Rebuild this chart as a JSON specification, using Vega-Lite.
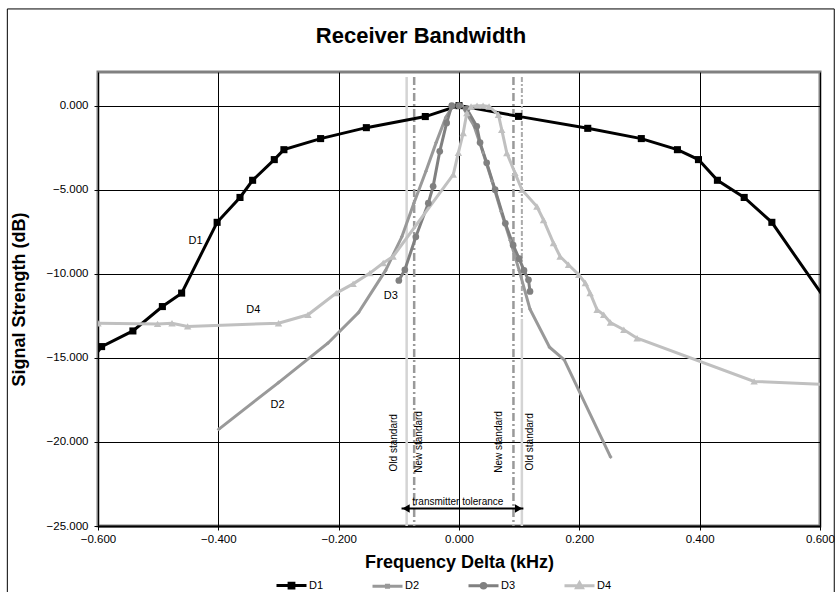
{
  "$schema": "https://vega.github.io/schema/vega-lite/v6.json",
  "autosize": {"type": "none"},
  "width": 722,
  "height": 454,
  "padding": {"left": 98, "top": 72, "right": 16, "bottom": 66},
  "background": "white",
  "config": {
    "font": "Liberation Sans",
    "view": {"stroke": "#808080", "strokeWidth": 3},
    "axis": {"labelFont": "Liberation Sans", "titleFont": "Liberation Sans", "labelColor": "black", "titleColor": "black"},
    "legend": {"orient": "none", "legendX": 177, "legendY": 497, "direction": "horizontal", "padding": 0, "symbolSize": 900, "symbolStrokeWidth": 3, "symbolOpacity": 1, "labelFontSize": 11, "labelFont": "Liberation Sans", "labelColor": "black", "labelOffset": 1, "columnPadding": 42}
  },
  "title": {"text": "Receiver Bandwidth", "fontSize": 22, "fontWeight": "bold", "font": "Liberation Sans", "color": "black", "anchor": "middle", "frame": "group", "dx": -38, "offset": -39.5},
  "datasets": {
    "series": [
      {"series": "D1", "x": -0.62, "y": -15.6}, {"series": "D1", "x": -0.594, "y": -14.33}, {"series": "D1", "x": -0.542, "y": -13.4}, {"series": "D1", "x": -0.493, "y": -11.95}, {"series": "D1", "x": -0.461, "y": -11.15}, {"series": "D1", "x": -0.402, "y": -6.94}, {"series": "D1", "x": -0.364, "y": -5.46}, {"series": "D1", "x": -0.343, "y": -4.44}, {"series": "D1", "x": -0.307, "y": -3.21}, {"series": "D1", "x": -0.291, "y": -2.62}, {"series": "D1", "x": -0.23, "y": -1.96}, {"series": "D1", "x": -0.154, "y": -1.31}, {"series": "D1", "x": -0.056, "y": -0.65}, {"series": "D1", "x": 0.0, "y": 0.0}, {"series": "D1", "x": 0.099, "y": -0.64}, {"series": "D1", "x": 0.214, "y": -1.35}, {"series": "D1", "x": 0.303, "y": -1.96}, {"series": "D1", "x": 0.363, "y": -2.62}, {"series": "D1", "x": 0.398, "y": -3.21}, {"series": "D1", "x": 0.4295, "y": -4.44}, {"series": "D1", "x": 0.474, "y": -5.46}, {"series": "D1", "x": 0.52, "y": -6.94}, {"series": "D1", "x": 0.62, "y": -12.1},
      {"series": "D2", "x": -0.3995, "y": -19.25}, {"series": "D2", "x": -0.3, "y": -16.47}, {"series": "D2", "x": -0.218, "y": -14.13}, {"series": "D2", "x": -0.167, "y": -12.3}, {"series": "D2", "x": -0.122, "y": -9.8}, {"series": "D2", "x": -0.095, "y": -7.8}, {"series": "D2", "x": -0.075, "y": -5.8}, {"series": "D2", "x": -0.055, "y": -3.9}, {"series": "D2", "x": -0.038, "y": -2.2}, {"series": "D2", "x": -0.022, "y": -0.7}, {"series": "D2", "x": -0.01, "y": 0.0}, {"series": "D2", "x": 0.005, "y": 0.0}, {"series": "D2", "x": 0.025, "y": -1.2}, {"series": "D2", "x": 0.04, "y": -2.8}, {"series": "D2", "x": 0.055, "y": -4.5}, {"series": "D2", "x": 0.07, "y": -6.3}, {"series": "D2", "x": 0.085, "y": -8.0}, {"series": "D2", "x": 0.1, "y": -9.8}, {"series": "D2", "x": 0.118, "y": -12.1}, {"series": "D2", "x": 0.1505, "y": -14.37}, {"series": "D2", "x": 0.175, "y": -15.12}, {"series": "D2", "x": 0.252, "y": -20.9},
      {"series": "D3", "x": -0.1, "y": -10.4}, {"series": "D3", "x": -0.09, "y": -9.76}, {"series": "D3", "x": -0.0717, "y": -7.8}, {"series": "D3", "x": -0.051, "y": -5.8}, {"series": "D3", "x": -0.043, "y": -4.8}, {"series": "D3", "x": -0.032, "y": -2.72}, {"series": "D3", "x": -0.0205, "y": -1.03}, {"series": "D3", "x": -0.012, "y": 0.0}, {"series": "D3", "x": 0.0, "y": 0.0}, {"series": "D3", "x": 0.013, "y": -0.2}, {"series": "D3", "x": 0.0295, "y": -1.23}, {"series": "D3", "x": 0.035, "y": -2.2}, {"series": "D3", "x": 0.046, "y": -3.4}, {"series": "D3", "x": 0.06, "y": -5.0}, {"series": "D3", "x": 0.077, "y": -7.0}, {"series": "D3", "x": 0.09, "y": -8.3}, {"series": "D3", "x": 0.1, "y": -9.1}, {"series": "D3", "x": 0.108, "y": -9.8}, {"series": "D3", "x": 0.1155, "y": -10.36}, {"series": "D3", "x": 0.118, "y": -11.05},
      {"series": "D4", "x": -0.6, "y": -12.94}, {"series": "D4", "x": -0.501, "y": -12.98}, {"series": "D4", "x": -0.477, "y": -12.94}, {"series": "D4", "x": -0.451, "y": -13.13}, {"series": "D4", "x": -0.3, "y": -12.94}, {"series": "D4", "x": -0.251, "y": -12.44}, {"series": "D4", "x": -0.204, "y": -11.15}, {"series": "D4", "x": -0.176, "y": -10.6}, {"series": "D4", "x": -0.148, "y": -9.96}, {"series": "D4", "x": -0.126, "y": -9.36}, {"series": "D4", "x": -0.1095, "y": -8.97}, {"series": "D4", "x": -0.0095, "y": -4.1}, {"series": "D4", "x": -0.001, "y": -2.8}, {"series": "D4", "x": 0.007, "y": -1.63}, {"series": "D4", "x": 0.013, "y": -0.44}, {"series": "D4", "x": 0.02, "y": -0.05}, {"series": "D4", "x": 0.03, "y": 0.0}, {"series": "D4", "x": 0.04, "y": 0.0}, {"series": "D4", "x": 0.05, "y": -0.05}, {"series": "D4", "x": 0.0655, "y": -0.54}, {"series": "D4", "x": 0.071, "y": -1.43}, {"series": "D4", "x": 0.0795, "y": -2.82}, {"series": "D4", "x": 0.093, "y": -4.0}, {"series": "D4", "x": 0.1045, "y": -5.0}, {"series": "D4", "x": 0.1295, "y": -6.0}, {"series": "D4", "x": 0.1405, "y": -6.8}, {"series": "D4", "x": 0.157, "y": -8.17}, {"series": "D4", "x": 0.168, "y": -8.97}, {"series": "D4", "x": 0.182, "y": -9.46}, {"series": "D4", "x": 0.199, "y": -10.06}, {"series": "D4", "x": 0.21, "y": -10.55}, {"series": "D4", "x": 0.218, "y": -11.15}, {"series": "D4", "x": 0.2295, "y": -12.14}, {"series": "D4", "x": 0.2405, "y": -12.44}, {"series": "D4", "x": 0.2517, "y": -12.9}, {"series": "D4", "x": 0.274, "y": -13.33}, {"series": "D4", "x": 0.296, "y": -13.83}, {"series": "D4", "x": 0.4905, "y": -16.4}, {"series": "D4", "x": 0.62, "y": -16.6}
    ]
  },
  "layer": [
    {
      "data": {"values": [{"x": -0.087, "y": 1.7, "y2": -25}, {"x": 0.1045, "y": -12.7, "y2": -25}]},
      "mark": {"type": "rule", "color": "#d4d4d4", "strokeWidth": 2.5},
      "encoding": {
        "x": {"field": "x", "type": "quantitative", "scale": {"domain": [-0.6, 0.6], "nice": false, "zero": false},
          "axis": {"values": [-0.6, -0.4, -0.2, 0, 0.2, 0.4, 0.6], "format": ".3f", "title": "Frequency Delta (kHz)", "titleFontSize": 18, "titleFontWeight": "bold", "titlePadding": 9, "labelFontSize": 11.5, "labelPadding": 3, "tickSize": 4, "tickColor": "black", "domainColor": "black", "domainWidth": 2, "grid": true, "gridColor": "black", "gridOpacity": 1, "gridWidth": 1, "labelFlush": false}},
        "y": {"field": "y", "type": "quantitative", "scale": {"domain": [-25, 2], "nice": false, "zero": false},
          "axis": {"values": [-25, -20, -15, -10, -5, 0], "format": ".3f", "title": "Signal Strength (dB)", "titleFontSize": 18, "titleFontWeight": "bold", "titlePadding": 18, "labelFontSize": 11.5, "labelPadding": 6, "tickSize": 4, "tickColor": "black", "domain": false, "grid": true, "gridColor": "black", "gridOpacity": 1, "gridWidth": 1, "labelFlush": false}},
        "y2": {"field": "y2"}
      }
    },
    {
      "data": {"values": [{"x": -0.0745, "y": 1.7, "y2": -25}, {"x": 0.0905, "y": 1.7, "y2": -25}]},
      "mark": {"type": "rule", "color": "#999999", "strokeWidth": 2.5, "strokeDash": [8, 3, 2, 3]},
      "encoding": {"x": {"field": "x", "type": "quantitative"}, "y": {"field": "y", "type": "quantitative"}, "y2": {"field": "y2"}}
    },
    {
      "data": {"values": [{"x": 0.1045, "y": 1.7, "y2": -12.7}]},
      "mark": {"type": "rule", "color": "#ababab", "strokeWidth": 2, "strokeDash": [5, 2, 2, 2]},
      "encoding": {"x": {"field": "x", "type": "quantitative"}, "y": {"field": "y", "type": "quantitative"}, "y2": {"field": "y2"}}
    },
    {
      "data": {"name": "series"},
      "mark": {"type": "line", "strokeWidth": 3, "clip": true},
      "encoding": {
        "x": {"field": "x", "type": "quantitative"},
        "y": {"field": "y", "type": "quantitative"},
        "color": {"field": "series", "type": "nominal", "scale": {"domain": ["D1", "D2", "D3", "D4"], "range": ["#000000", "#999999", "#808080", "#c0c0c0"]}, "legend": null}
      }
    },
    {
      "data": {"name": "series"},
      "transform": [{"filter": "datum.series == 'D1'"}],
      "mark": {"type": "point", "shape": "square", "filled": true, "opacity": 1, "color": "#000000", "size": 50, "clip": true},
      "encoding": {"x": {"field": "x", "type": "quantitative"}, "y": {"field": "y", "type": "quantitative"}}
    },
    {
      "data": {"name": "series"},
      "transform": [{"filter": "datum.series == 'D2'"}],
      "mark": {"type": "point", "shape": "diamond", "filled": true, "opacity": 1, "color": "#999999", "size": 16, "clip": true},
      "encoding": {"x": {"field": "x", "type": "quantitative"}, "y": {"field": "y", "type": "quantitative"}}
    },
    {
      "data": {"name": "series"},
      "transform": [{"filter": "datum.series == 'D3'"}],
      "mark": {"type": "point", "shape": "circle", "filled": true, "opacity": 1, "color": "#808080", "size": 45, "clip": true},
      "encoding": {"x": {"field": "x", "type": "quantitative"}, "y": {"field": "y", "type": "quantitative"}}
    },
    {
      "data": {"name": "series"},
      "transform": [{"filter": "datum.series == 'D4'"}],
      "mark": {"type": "point", "shape": "triangle-up", "filled": true, "opacity": 1, "color": "#c0c0c0", "size": 55, "clip": true},
      "encoding": {"x": {"field": "x", "type": "quantitative"}, "y": {"field": "y", "type": "quantitative"}}
    },
    {
      "data": {"name": "series"},
      "transform": [{"filter": "datum.x > 10"}],
      "mark": {"type": "point", "filled": true, "strokeWidth": 3, "opacity": 1},
      "encoding": {
        "x": {"field": "x", "type": "quantitative"},
        "y": {"field": "y", "type": "quantitative"},
        "fill": {"field": "series", "type": "nominal", "title": null, "scale": {"domain": ["D1", "D2", "D3", "D4"], "range": ["#000000", "#999999", "#808080", "#c0c0c0"]}},
        "stroke": {"field": "series", "type": "nominal", "title": null, "scale": {"domain": ["D1", "D2", "D3", "D4"], "range": ["#000000", "#999999", "#808080", "#c0c0c0"]}},
        "shape": {"field": "series", "type": "nominal", "title": null,
          "scale": {"domain": ["D1", "D2", "D3", "D4"], "range": [
            "M-1,0H1M-0.16,-0.16H0.16V0.16H-0.16Z",
            "M-1,0H1M-0.07,-0.07H0.07V0.07H-0.07Z",
            "M-1,0H1M-0.15,0A0.15,0.15 0 1,0 0.15,0A0.15,0.15 0 1,0 -0.15,0Z",
            "M-1,0H1M0,-0.2L0.19,0.13H-0.19Z"]}}
      }
    },
    {
      "data": {"values": [{"label": "D1", "x": -0.438, "y": -8.08}, {"label": "D4", "x": -0.342, "y": -12.14}, {"label": "D2", "x": -0.3017, "y": -17.8}, {"label": "D3", "x": -0.1133, "y": -11.35}]},
      "mark": {"type": "text", "fontSize": 11, "color": "black", "align": "center", "baseline": "middle"},
      "encoding": {"x": {"field": "x", "type": "quantitative"}, "y": {"field": "y", "type": "quantitative"}, "text": {"field": "label"}}
    },
    {
      "data": {"values": [{"label": "Old standard", "x": -0.1087, "y": -20.05}, {"label": "New standard", "x": -0.0671, "y": -20.0}, {"label": "New standard", "x": 0.0658, "y": -20.0}, {"label": "Old standard", "x": 0.1185, "y": -20.0}]},
      "mark": {"type": "text", "fontSize": 10, "color": "black", "align": "center", "baseline": "middle", "angle": 270},
      "encoding": {"x": {"field": "x", "type": "quantitative"}, "y": {"field": "y", "type": "quantitative"}, "text": {"field": "label"}}
    },
    {
      "data": {"values": [{"x": -0.0955, "x2": 0.107, "y": -23.96}]},
      "mark": {"type": "rule", "color": "black", "strokeWidth": 2},
      "encoding": {"x": {"field": "x", "type": "quantitative"}, "x2": {"field": "x2"}, "y": {"field": "y", "type": "quantitative"}}
    },
    {
      "data": {"values": [{"end": "left", "x": -0.088, "y": -23.96}]},
      "mark": {"type": "point", "shape": "triangle-left", "filled": true, "color": "black", "size": 70, "opacity": 1},
      "encoding": {"x": {"field": "x", "type": "quantitative"}, "y": {"field": "y", "type": "quantitative"}}
    },
    {
      "data": {"values": [{"end": "right", "x": 0.099, "y": -23.96}]},
      "mark": {"type": "point", "shape": "triangle-right", "filled": true, "color": "black", "size": 70, "opacity": 1},
      "encoding": {"x": {"field": "x", "type": "quantitative"}, "y": {"field": "y", "type": "quantitative"}}
    },
    {
      "data": {"values": [{"label": "transmitter tolerance", "x": -0.002, "y": -23.57}]},
      "mark": {"type": "text", "fontSize": 10, "color": "black", "align": "center", "baseline": "middle"},
      "encoding": {"x": {"field": "x", "type": "quantitative"}, "y": {"field": "y", "type": "quantitative"}, "text": {"field": "label"}}
    },
    {
      "data": {"values": [{"part": "chart frame", "x": -0.7507, "x2": 0.6237, "y": 5.75, "y2": -29.5}]},
      "mark": {"type": "rect", "fill": null, "fillOpacity": 0, "stroke": "black", "strokeWidth": 1, "clip": false},
      "encoding": {"x": {"field": "x", "type": "quantitative"}, "x2": {"field": "x2"}, "y": {"field": "y", "type": "quantitative"}, "y2": {"field": "y2"}}
    }
  ],
  "resolve": {"scale": {"shape": "independent", "fill": "independent", "stroke": "independent"}, "legend": {"shape": "independent", "fill": "independent", "stroke": "independent"}}
}
